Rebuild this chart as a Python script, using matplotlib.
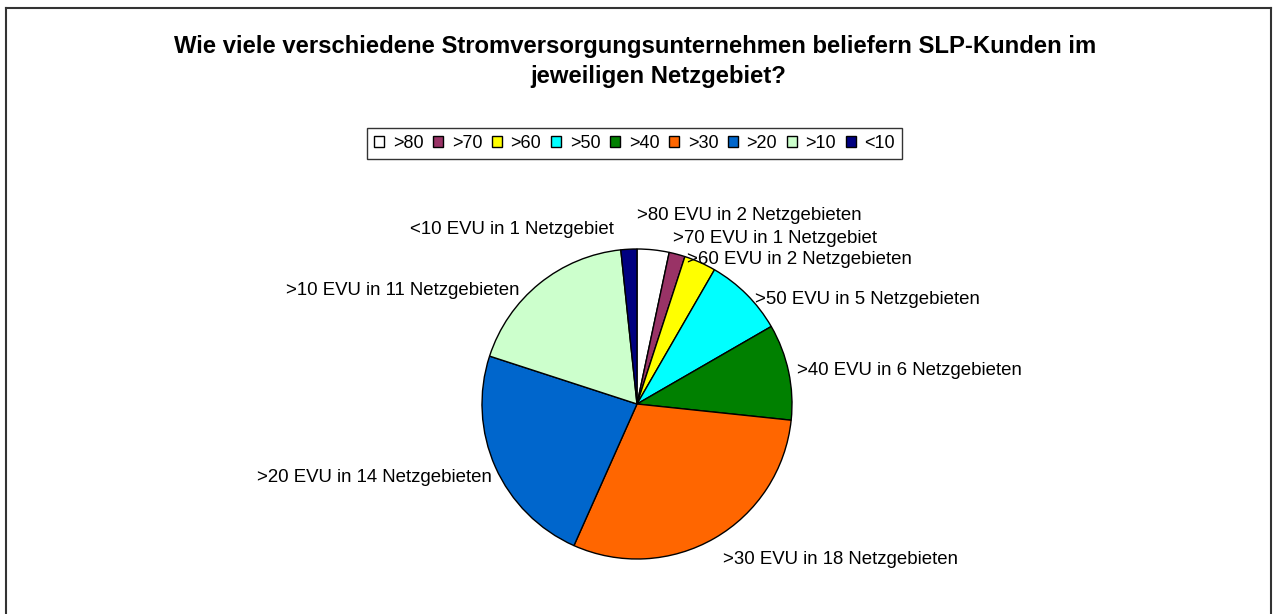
import matplotlib
matplotlib.use("Agg")
import matplotlib.pyplot as plt
from matplotlib.lines import Line2D
from matplotlib.patches import Patch

plt.rcParams["font.family"] = ["Liberation Sans", "DejaVu Sans"]

# Daten
kategorien = [">80", ">70", ">60", ">50", ">40", ">30", ">20", ">10", "<10"]
netzgebiete = [2, 1, 2, 5, 6, 18, 14, 11, 1]
beschriftungen = [
    ">80 EVU in 2 Netzgebieten",
    ">70 EVU in 1 Netzgebiet",
    ">60 EVU in 2 Netzgebieten",
    ">50 EVU in 5 Netzgebieten",
    ">40 EVU in 6 Netzgebieten",
    ">30 EVU in 18 Netzgebieten",
    ">20 EVU in 14 Netzgebieten",
    ">10 EVU in 11 Netzgebieten",
    "<10 EVU in 1 Netzgebiet",
]
farben = ["#FFFFFF", "#993366", "#FFFF00", "#00FFFF", "#008000",
          "#FF6600", "#0066CC", "#CCFFCC", "#000080"]
titel = ["Wie viele verschiedene Stromversorgungsunternehmen beliefern SLP-Kunden im",
         "jeweiligen Netzgebiet?"]

# Position der Beschriftungen (in Radius-Einheiten) und Ausrichtung
label_pos = [(0.0, 1.213), (0.232, 1.065), (0.323, 0.935), (0.761, 0.671),
             (1.032, 0.219), (0.555, -1.006), (-0.935, -0.477),
             (-0.761, 0.735), (-0.148, 1.123)]
label_ha = ["left", "left", "left", "left", "left", "left", "right", "right", "right"]

W, H = 1273, 614
fig = plt.figure(figsize=(W / 100, H / 100), dpi=100)

# Rahmen
rahmen = dict(color="#333333", linewidth=1.5)
fig.add_artist(Line2D([6 / W, 6 / W], [0, 1 - 8 / H], transform=fig.transFigure, **rahmen))
fig.add_artist(Line2D([6 / W, 1271 / W], [1 - 8 / H, 1 - 8 / H], transform=fig.transFigure, **rahmen))
fig.add_artist(Line2D([1271 / W, 1271 / W], [0, 1 - 8 / H], transform=fig.transFigure, **rahmen))

# Kreisdiagramm
cx, cy, r = 637, 404, 155
ax = fig.add_axes([(cx - r) / W, (H - cy - r) / H, 2 * r / W, 2 * r / H])
ax.pie(netzgebiete, colors=farben, startangle=90, counterclock=False,
       wedgeprops=dict(edgecolor="black", linewidth=1))
ax.set_xlim(-1, 1)
ax.set_ylim(-1, 1)
ax.set_aspect("auto")
ax.axis("off")

for text, (x, y), ha in zip(beschriftungen, label_pos, label_ha):
    ax.text(x, y, text, ha=ha, va="center", fontsize=13.4, clip_on=False)

# Titel (zwei Zeilen, wie im Original leicht versetzt)
fig.text(635 / W, 1 - 47 / H, titel[0], ha="center", va="center",
         fontsize=17.2, fontweight="bold")
fig.text(658 / W, 1 - 77 / H, titel[1], ha="center", va="center",
         fontsize=17.2, fontweight="bold")

# Legende
handles = [Patch(facecolor=f, edgecolor="black", linewidth=1) for f in farben]
leg = fig.legend(handles, kategorien, loc="center", bbox_to_anchor=(634.5 / W, 1 - 143.5 / H),
                 ncol=9, fontsize=13, frameon=True, fancybox=False,
                 handlelength=0.55, handleheight=0.55, handletextpad=0.5,
                 columnspacing=0.52, borderpad=0.38, borderaxespad=0)
leg.get_frame().set_edgecolor("black")
leg.get_frame().set_linewidth(1)

plt.savefig("out.png", dpi=100)
plt.close()
